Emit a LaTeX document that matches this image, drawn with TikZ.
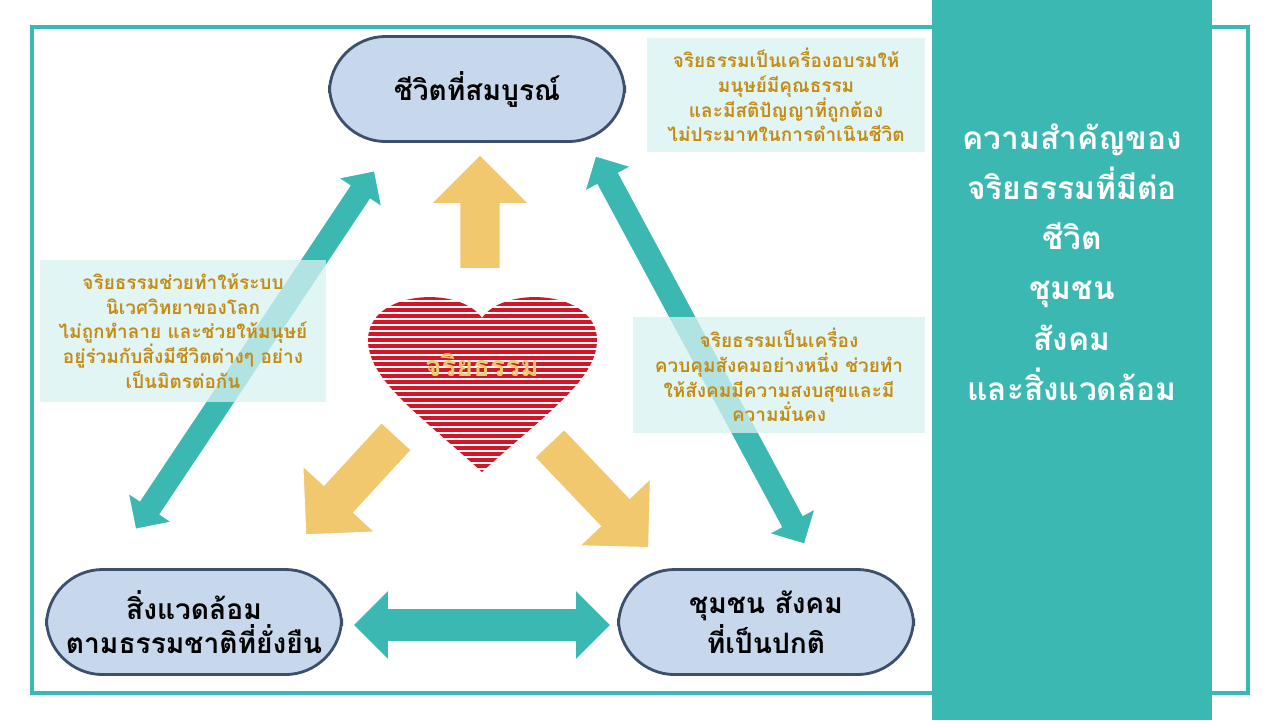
\documentclass[tikz,border=0pt]{standalone}
\usepackage{fontspec}
\newfontfamily\thaifont[Script=Thai]{Loma}
\usetikzlibrary{shapes.arrows}
\definecolor{tl_teal}{RGB}{60, 184, 178}
\definecolor{tl_blue}{RGB}{199, 216, 236}
\definecolor{tl_edge}{RGB}{60, 80, 110}
\definecolor{tl_gold}{RGB}{196, 140, 20}
\definecolor{tl_note}{RGB}{215, 242, 242}
\definecolor{tl_yel}{RGB}{241, 200, 110}
\definecolor{tl_red}{RGB}{214, 20, 40}
\tikzstyle{pill}=[rounded corners=1.6em,fill=tl_blue,draw=tl_edge,line width=0.8pt,
  minimum width=2.95cm,minimum height=1.05cm,align=center,font=\thaifont\bfseries\fontsize{8}{9.5}\selectfont]
\tikzstyle{note}=[fill=tl_note,fill opacity=0.75,text opacity=1,text=tl_gold,align=center,inner sep=2pt,
  font=\thaifont\bfseries\fontsize{5.4}{7}\selectfont]
\tikzstyle{dbl}=[double arrow,fill=tl_teal,draw=white,line width=0.8pt,
  minimum width=0.55cm,double arrow head extend=0.15cm]
\tikzstyle{yel}=[single arrow,fill=tl_yel,draw=white,line width=0.6pt,
  minimum width=1.0cm,single arrow head extend=0.18cm]
\tikzstyle{none}=[]
\begin{document}
\begin{tikzpicture}[x=0.01cm,y=-0.01cm]
    \useasboundingbox (0,0) rectangle (1280,720);
    \fill [white] (0,0) rectangle (1280,720);
    \draw [tl_teal, line width=1.2pt] (32,27) rectangle (1248,693);
    \fill [tl_teal] (932,0) rectangle (1212,720);
    \node [style=none, text=white, align=center, font=\thaifont\bfseries\fontsize{9}{14.3}\selectfont]
      (title) at (1072,262) {ความสำคัญของ\\จริยธรรมที่มีต่อ\\ชีวิต\\ชุมชน\\สังคม\\และสิ่งแวดล้อม};
    % main nodes
    \node [style=pill] (life) at (477,89) {ชีวิตที่สมบูรณ์};
    \node [style=pill] (env) at (194,622) {สิ่งแวดล้อม\\ตามธรรมชาติที่ยั่งยืน};
    \node [style=pill] (soc) at (766,622) {ชุมชน สังคม\\ที่เป็นปกติ};
    % two-way arrows
    \node [style=dbl, minimum height=4.33cm, rotate=-123.7] (a1) at (255,350) {};
    \node [style=dbl, minimum height=4.43cm, rotate=-61.7] (a2) at (700,350) {};
    \node [style=dbl, minimum height=2.6cm, minimum width=0.75cm] (a3) at (482,625) {};
    % one-way arrows
    \node [style=yel, minimum height=1.15cm, rotate=90] (y1) at (480,222) {};
    \node [style=yel, minimum height=1.35cm, rotate=-132.6] (y2) at (358,478) {};
    \node [style=yel, minimum height=1.45cm, rotate=-46.4] (y3) at (592,488) {};
    % notes
    \node [style=note, minimum width=2.77cm, minimum height=1.14cm] (n1) at (786,95)
      {จริยธรรมเป็นเครื่องอบรมให้\\มนุษย์มีคุณธรรม\\และมีสติปัญญาที่ถูกต้อง\\ไม่ประมาทในการดำเนินชีวิต};
    \node [style=note, minimum width=2.85cm, minimum height=1.42cm] (n2) at (183,331)
      {จริยธรรมช่วยทำให้ระบบ\\นิเวศวิทยาของโลก\\ไม่ถูกทำลาย และช่วยให้มนุษย์\\อยู่ร่วมกับสิ่งมีชีวิตต่างๆ อย่าง\\เป็นมิตรต่อกัน};
    \node [style=note, minimum width=2.92cm, minimum height=1.15cm] (n3) at (779,375)
      {จริยธรรมเป็นเครื่อง\\ควบคุมสังคมอย่างหนึ่ง ช่วยทำ\\ให้สังคมมีความสงบสุขและมี\\ความมั่นคง};
    % heart
    \begin{scope}
      \clip (482,472) .. controls (420,415) and (368,380) .. (368,340)
        .. controls (368,290) and (460,285) .. (482,318)
        .. controls (504,285) and (597,290) .. (597,340)
        .. controls (597,380) and (544,415) .. (482,472) -- cycle;
      \foreach \y in {296,302,...,476}
        \fill [tl_red] (360,\y) rectangle (605,\y+3.6);
    \end{scope}
    \node [style=none, text=tl_yel, font=\thaifont\bfseries\fontsize{8}{9}\selectfont] (heart) at (482,365) {จริยธรรม};
\end{tikzpicture}
\end{document}
